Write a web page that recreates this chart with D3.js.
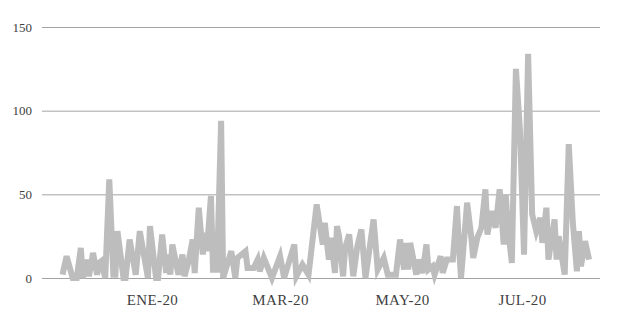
<!DOCTYPE html>
<html lang="es">
<head>
<meta charset="UTF-8">
<title>Serie diaria</title>
<script src="https://d3js.org/d3.v7.min.js"></script>
<style>
    body { margin: 0; background: #ffffff; }
</style>
</head>
<body>
<svg width="622" height="321"></svg>
<script>
    // days counted from startDate, and the value on that day
    const startDate = "2019-11-17";
    const dayOffsets = [1, 3, 6, 8, 10, 11, 13, 14, 16, 18, 19, 20, 22, 24, 26, 27, 28, 31, 32, 34,
        37, 39, 43, 44, 47, 48, 50, 52, 53, 54, 55, 58, 60, 61, 63, 65, 66, 68, 70, 71,
        72, 74, 75, 77, 79, 80, 84, 86, 87, 91, 92, 95, 97, 98, 100, 104, 108, 110, 115, 116,
        119, 122, 126, 129, 130, 132, 133, 135, 136, 137, 139, 140, 142, 144, 146, 148, 150, 154, 156, 159,
        161, 165, 167, 169, 170, 171, 172, 175, 176, 178, 180, 181, 183, 184, 187, 188, 190, 193, 195, 196,
        197, 200, 202, 203, 205, 207, 209, 210, 212, 214, 216, 218, 219, 220, 222, 224, 226, 228, 230, 232,
        234, 236, 237, 239, 240, 243, 244, 245, 248, 250, 252, 254, 255, 256, 258, 260];
    const values = [2, 13, 0, 0, 18, 0, 11, 1, 15, 2, 9, 10, 0, 59, 2, 2, 28, 0, 0, 23,
        2, 28, 0, 31, 0, 0, 26, 3, 14, 2, 20, 2, 14, 1, 10, 23, 3, 42, 14, 27,
        16, 49, 5, 5, 94, 0, 16, 0, 12, 16, 6, 6, 11, 4, 12, 0, 13, 0, 20, 1,
        8, 2, 44, 20, 33, 11, 24, 3, 31, 25, 1, 18, 26, 1, 19, 29, 0, 35, 5, 12,
        2, 2, 23, 5, 21, 5, 21, 2, 11, 3, 20, 5, 7, 2, 13, 3, 11, 11, 43, 19,
        0, 45, 25, 12, 24, 30, 53, 26, 40, 30, 53, 20, 50, 31, 9, 125, 88, 14, 134, 38,
        28, 36, 21, 42, 11, 35, 11, 25, 2, 80, 33, 4, 28, 7, 22, 11];
    const endDate = "2020-08-03";

    const tickDates = ["2020-01-01", "2020-03-04", "2020-05-03", "2020-07-01"];
    const tickLabels = ["ENE-20", "MAR-20", "MAY-20", "JUL-20"];
    const yTicks = [0, 50, 100, 150];

    const serif = "'Liberation Serif', 'Times New Roman', serif";

    let svg = d3.select("svg");
    let start = new Date(startDate + "T00:00:00Z");

    let data = dayOffsets.map(function (d, i) {
        return { date: d3.utcDay.offset(start, d), value: values[i] };
    });

    let x = d3.scaleUtc()
        .domain([start, new Date(endDate + "T00:00:00Z")])
        .range([60.5, 589.1]);

    let y = d3.scaleLinear()
        .domain([0, 150])
        .range([278, 27]);

    // horizontal grid + y labels
    let yAxis = d3.axisLeft(y)
        .tickValues(yTicks)
        .tickSize(-558)
        .tickPadding(10);

    let gy = svg.append("g")
        .attr("transform", "translate(42,0)")
        .call(yAxis)
        .attr("font-family", serif)
        .attr("font-size", 13);
    gy.select(".domain").remove();
    gy.selectAll(".tick line")
        .attr("stroke", "#a3a3a3")
        .attr("stroke-width", 1);
    gy.selectAll(".tick text")
        .attr("fill", "#3f3f3f");

    // x labels
    let xAxis = d3.axisBottom(x)
        .tickValues(tickDates.map(function (s) { return new Date(s + "T00:00:00Z"); }))
        .tickFormat(function (d, i) { return tickLabels[i]; })
        .tickSize(0)
        .tickPadding(16);

    let gx = svg.append("g")
        .attr("transform", "translate(0,278)")
        .call(xAxis)
        .attr("font-family", serif)
        .attr("font-size", 15);
    gx.select(".domain").remove();
    gx.selectAll(".tick text")
        .attr("letter-spacing", "0.4px")
        .attr("fill", "#3f3f3f");

    let line = d3.line()
        .x(function (d) { return x(d.date); })
        .y(function (d) { return y(d.value); });

    svg.append("path")
        .datum(data)
        .attr("d", line)
        .attr("fill", "none")
        .attr("stroke", "#bdbdbd")
        .attr("stroke-width", 6)
        .attr("stroke-linejoin", "miter");
</script>
</body>
</html>
